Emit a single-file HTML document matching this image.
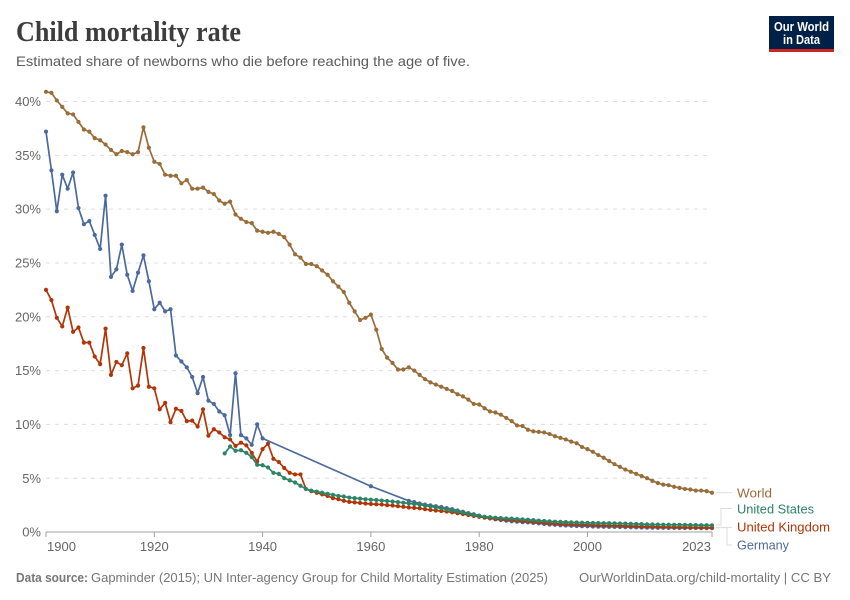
<!DOCTYPE html>
<html lang="en">
<head>
<meta charset="utf-8">
<title>Child mortality rate</title>
<style>
  html, body { margin: 0; padding: 0; background: #fff; }
  svg { display: block; font-family: "Liberation Sans", sans-serif; }
</style>
</head>
<body>
<svg id="chart" xmlns="http://www.w3.org/2000/svg" width="850" height="600" viewBox="0 0 850 600">
  <rect x="0" y="0" width="850" height="600" fill="#fff"/>
  <text x="16" y="41" font-family="'Liberation Serif', serif" font-weight="700" font-size="29" fill="#3d3d3d" textLength="225" lengthAdjust="spacingAndGlyphs">Child mortality rate</text>
  <text x="16" y="66" font-size="14" fill="#5b5b5b" textLength="454" lengthAdjust="spacingAndGlyphs">Estimated share of newborns who die before reaching the age of five.</text>

  <g>
    <rect x="769" y="16" width="65" height="36" fill="#002147"/>
    <rect x="769" y="49" width="65" height="3" fill="#ce261e"/>
    <text x="801.5" y="31" text-anchor="middle" font-size="12.5" font-weight="700" fill="#fff" textLength="55" lengthAdjust="spacingAndGlyphs">Our World</text>
    <text x="801.5" y="44" text-anchor="middle" font-size="12.5" font-weight="700" fill="#fff" textLength="37" lengthAdjust="spacingAndGlyphs">in Data</text>
  </g>

  <g id="grid"></g>
  <g id="y-axis"></g>
  <g id="x-axis"></g>
  <g id="series"></g>

  <g fill="none" stroke="#ddd" stroke-width="1">
    <path d="M716 492.7H732"/>
    <path d="M716 525H721V508.5H732"/>
    <path d="M716 527.4H732"/>
    <path d="M716 527.6H727V545H732"/>
  </g>
  <text x="737" y="497.5" font-size="13" fill="#996D39" textLength="35" lengthAdjust="spacingAndGlyphs">World</text>
  <text x="737" y="513.5" font-size="13" fill="#2C8465" textLength="77" lengthAdjust="spacingAndGlyphs">United States</text>
  <text x="737" y="531.5" font-size="13" fill="#B13507" textLength="93" lengthAdjust="spacingAndGlyphs">United Kingdom</text>
  <text x="737" y="549.5" font-size="13" fill="#4C6A9C" textLength="52" lengthAdjust="spacingAndGlyphs">Germany</text>

  <text x="16" y="582" font-size="13" font-weight="700" fill="#777" textLength="72" lengthAdjust="spacingAndGlyphs">Data source:</text>
  <text x="91" y="582" font-size="13" fill="#777" textLength="457" lengthAdjust="spacingAndGlyphs">Gapminder (2015); UN Inter-agency Group for Child Mortality Estimation (2025)</text>
  <text x="579" y="582" font-size="13" fill="#777" textLength="252" lengthAdjust="spacingAndGlyphs">OurWorldinData.org/child-mortality | CC BY</text>
</svg>

<script>
const yTicks = [0, 5, 10, 15, 20, 25, 30, 35, 40];
const xTicks = [1900, 1920, 1940, 1960, 1980, 2000, 2023];

const worldStartYear = 1900;
const worldValues = [
  40.9,40.8,40.1,39.5,38.9,38.8,38.1,37.4,37.2,36.6,
  36.4,36.0,35.5,35.1,35.4,35.3,35.1,35.3,37.6,35.7,
  34.4,34.2,33.2,33.1,33.1,32.4,32.7,31.9,31.9,32.0,
  31.6,31.4,30.8,30.5,30.7,29.5,29.1,28.8,28.7,28.0,
  27.9,27.8,27.9,27.7,27.4,26.7,25.8,25.5,24.9,24.9,
  24.7,24.3,23.9,23.3,22.8,22.3,21.3,20.5,19.7,19.9,
  20.2,18.8,17.0,16.2,15.7,15.1,15.1,15.3,15.0,14.6,
  14.2,13.9,13.7,13.5,13.3,13.1,12.8,12.6,12.3,11.9,
  11.85,11.5,11.2,11.1,10.9,10.6,10.3,9.9,9.85,9.5,
  9.35,9.3,9.25,9.1,8.9,8.75,8.6,8.4,8.25,7.9,
  7.7,7.45,7.15,6.9,6.6,6.3,6.05,5.8,5.6,5.4,
  5.2,5.0,4.75,4.55,4.4,4.35,4.2,4.1,4.0,3.95,
  3.85,3.85,3.8,3.65
];

/* Germany: 1900-1940 yearly, then 1960, then 1967-2023 yearly */
const germanyEarlyValues = [
  37.2,33.6,29.8,33.2,31.9,33.4,30.1,28.6,28.9,27.6,
  26.3,31.25,23.7,24.4,26.7,23.9,22.4,24.1,25.7,23.3,
  20.7,21.3,20.5,20.7,16.4,15.85,15.3,14.4,12.9,14.4,
  12.2,11.9,11.2,10.85,9.0,14.75,9.0,8.7,8.1,10.0,
  8.7
];
const germany1960Value = [4.25];
const germanyLateValues = [
  2.9,2.78,2.65,
  2.55,2.48,2.4,2.32,2.22,2.13,2.0,1.88,1.76,1.65,
  1.52,1.38,1.27,1.18,1.11,1.05,1.0,0.96,0.92,0.89,
  0.85,0.8,0.75,0.7,0.67,0.63,0.6,0.58,0.56,0.54,
  0.53,0.51,0.5,0.49,0.48,0.47,0.46,0.45,0.44,0.43,
  0.42,0.41,0.4,0.39,0.39,0.38,0.38,0.37,0.37,0.37,
  0.37,0.36,0.36,0.36
];

const ukStartYear = 1900;
const ukValues = [
  22.5,21.55,19.9,19.1,20.85,18.6,19.0,17.6,17.6,16.3,
  15.6,18.9,14.6,15.8,15.5,16.6,13.35,13.6,17.1,13.5,
  13.35,11.4,12.0,10.2,11.45,11.25,10.3,10.35,9.8,11.4,
  8.95,9.55,9.25,8.8,8.6,8.0,8.3,8.05,7.35,6.55,
  7.7,8.2,6.8,6.5,5.95,5.5,5.35,5.35,4.0,3.8,
  3.65,3.5,3.35,3.15,3.05,2.9,2.8,2.75,2.7,2.65,
  2.6,2.58,2.55,2.5,2.46,2.4,2.34,2.28,2.24,2.2,
  2.12,2.05,2.0,1.95,1.9,1.83,1.75,1.67,1.58,1.5,
  1.42,1.33,1.27,1.22,1.18,1.14,1.1,1.05,1.01,0.98,
  0.94,0.9,0.85,0.81,0.78,0.75,0.73,0.71,0.69,0.67,
  0.66,0.64,0.63,0.62,0.61,0.6,0.58,0.57,0.55,0.54,
  0.52,0.51,0.5,0.48,0.47,0.46,0.45,0.44,0.44,0.43,
  0.42,0.42,0.41,0.41
];

const usStartYear = 1933;
const usValues = [
  7.3,7.95,7.55,7.6,7.35,6.95,6.25,
  6.2,6.0,5.5,5.4,5.0,4.8,4.6,4.3,4.0,3.85,
  3.75,3.65,3.55,3.45,3.35,3.3,3.2,3.15,3.1,3.05,
  3.0,2.97,2.92,2.88,2.83,2.78,2.72,2.66,2.6,2.55,
  2.45,2.38,2.28,2.2,2.1,2.0,1.9,1.8,1.7,1.58,
  1.5,1.42,1.37,1.33,1.29,1.26,1.24,1.2,1.17,1.14,
  1.1,1.06,1.02,0.99,0.96,0.94,0.92,0.9,0.88,0.86,
  0.85,0.84,0.83,0.82,0.81,0.8,0.79,0.78,0.76,0.75,
  0.73,0.71,0.7,0.69,0.68,0.68,0.67,0.67,0.66,0.65,
  0.64,0.63,0.63,0.62
];

const SVG_NS = 'http://www.w3.org/2000/svg';
function xScale(year) { return 46 + (year - 1900) * (712 - 46) / 123; }
function yScale(v) { return 532 - v * (532 - 101.5) / 40; }

function svgEl(tag) { return document.createElementNS(SVG_NS, tag); }

const gridGroup = document.getElementById('grid');
const yAxisGroup = document.getElementById('y-axis');
const xAxisGroup = document.getElementById('x-axis');
const seriesGroup = document.getElementById('series');

yTicks.forEach(function (t) {
  if (t !== 0) {
    const line = svgEl('line');
    
    
    line.setAttribute('x1', xScale(1900));
    line.setAttribute('x2', xScale(2023));
    line.setAttribute('y1', yScale(t));
    line.setAttribute('y2', yScale(t));
    line.setAttribute('stroke', '#dddddd');
    line.setAttribute('stroke-dasharray', '4,5');
    gridGroup.appendChild(line);
  }
  const label = svgEl('text');
  
  
  label.setAttribute('x', 41);
  label.setAttribute('y', yScale(t) + 4.6);
  label.setAttribute('text-anchor', 'end');
  label.setAttribute('font-size', '13');
  label.setAttribute('fill', '#666');
  label.textContent = t + '%';
  yAxisGroup.appendChild(label);
});

const axisLine = svgEl('line');


axisLine.setAttribute('x1', xScale(1900));
axisLine.setAttribute('x2', xScale(2023));
axisLine.setAttribute('y1', yScale(0));
axisLine.setAttribute('y2', yScale(0));
axisLine.setAttribute('stroke', '#a1a1a1');
xAxisGroup.appendChild(axisLine);

xTicks.forEach(function (year, i) {
  const tick = svgEl('line');
  
  
  tick.setAttribute('x1', xScale(year));
  tick.setAttribute('x2', xScale(year));
  tick.setAttribute('y1', yScale(0));
  tick.setAttribute('y2', yScale(0) + 5);
  tick.setAttribute('stroke', '#a1a1a1');
  xAxisGroup.appendChild(tick);

  const label = svgEl('text');
  
  
  const first = i === 0;
  const last = i === xTicks.length - 1;
  label.setAttribute('x', xScale(year) + (first ? 1 : last ? -1 : 0));
  label.setAttribute('y', 551);
  label.setAttribute('text-anchor', first ? 'start' : last ? 'end' : 'middle');
  label.setAttribute('font-size', '13');
  label.setAttribute('fill', '#666');
  label.textContent = String(year);
  xAxisGroup.appendChild(label);
});

function yearsFrom(start, count) {
  const out = [];
  for (let i = 0; i < count; i++) out.push(start + i);
  return out;
}

function drawSeries(key, color, years, values) {
  const g = svgEl('g');
  
  

  const pts = years.map(function (y, i) {
    return xScale(y).toFixed(2) + ',' + yScale(values[i]).toFixed(2);
  });
  const line = svgEl('polyline');
  
  
  line.setAttribute('points', pts.join(' '));
  line.setAttribute('fill', 'none');
  line.setAttribute('stroke', color);
  line.setAttribute('stroke-width', '1.7');
  line.setAttribute('stroke-linejoin', 'round');
  g.appendChild(line);

  years.forEach(function (y, i) {
    const dot = svgEl('circle');
    
    
    dot.setAttribute('cx', xScale(y));
    dot.setAttribute('cy', yScale(values[i]));
    dot.setAttribute('r', '2.1');
    dot.setAttribute('fill', color);
    g.appendChild(dot);
  });
  seriesGroup.appendChild(g);
}

const germanyYears = yearsFrom(1900, germanyEarlyValues.length)
  .concat([1960])
  .concat(yearsFrom(1967, germanyLateValues.length));
const germanyValues = germanyEarlyValues.concat(germany1960Value, germanyLateValues);

drawSeries('germany', '#4C6A9C', germanyYears, germanyValues);
drawSeries('united-kingdom', '#B13507', yearsFrom(ukStartYear, ukValues.length), ukValues);
drawSeries('united-states', '#2C8465', yearsFrom(usStartYear, usValues.length), usValues);
drawSeries('world', '#996D39', yearsFrom(worldStartYear, worldValues.length), worldValues);
</script>
</body>
</html>
